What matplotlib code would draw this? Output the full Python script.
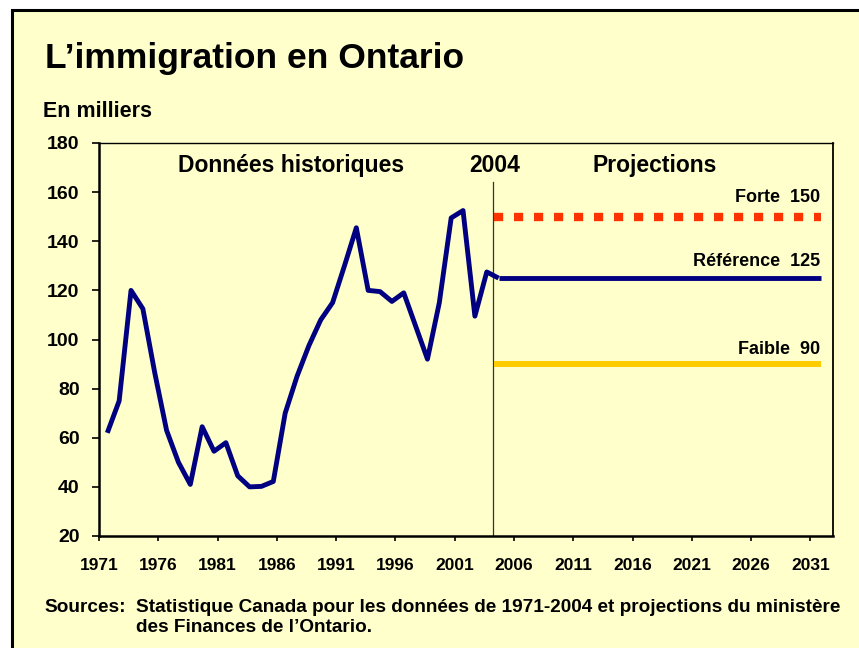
import matplotlib
matplotlib.use("Agg")
import matplotlib.pyplot as plt
from matplotlib import font_manager
from matplotlib.patches import Rectangle

# Data
hist_years = list(range(1971, 2004))
hist_values = [62, 75, 120, 112.5, 86.5, 63, 50, 41, 64.5, 54.5, 58, 44.5, 40, 40.2, 42.2,
               70, 85, 97.5, 108, 115, 130, 145.5, 120, 119.5, 115.5, 119, 105.5, 92, 115,
               149.5, 152.5, 109.5, 127.5]
proj_names = ["Forte", "Référence", "Faible"]
proj_values = [150, 125, 90]
proj_start, proj_end = 2004, 2031
tick_years = list(range(1971, 2032, 5))
y_ticks = list(range(20, 181, 20))

bg = "#FFFFCC"
navy = "#000080"
W, H = 859, 648

names = {f.name for f in font_manager.fontManager.ttflist}
narrow = "Liberation Sans Narrow" in names
title_font = "Liberation Sans Narrow" if narrow else "Liberation Sans"
plt.rcParams["font.family"] = ["Liberation Sans", "DejaVu Sans"]
plt.rcParams["font.weight"] = "bold"

fig = plt.figure(figsize=(W / 100, H / 100), dpi=100, facecolor="white")

# framed slide background
fig.patches.append(Rectangle((11.5 / W, -0.05), 1.1, 1 - 9.5 / H + 0.05,
                             transform=fig.transFigure, facecolor=bg,
                             edgecolor="black", linewidth=2.2, zorder=-5))

ax = fig.add_axes([99 / W, (H - 536) / H, (833 - 99) / W, (536 - 143) / H])
ax.set_zorder(2)
ax.set_facecolor(bg)

off = 0.7  # points sit inside each year's slot
ax.plot([y + off for y in hist_years] + [proj_start + off], hist_values + [proj_values[1]],
        color=navy, lw=3.5, solid_joinstyle="round", solid_capstyle="butt", zorder=4)
ax.plot([proj_start + off, proj_end + 0.85], [proj_values[1]] * 2, color=navy, lw=3.5,
        solid_capstyle="butt", zorder=4)
ax.plot([proj_start + 0.3, proj_end + 0.85], [proj_values[0]] * 2, color="#FF3300", lw=6,
        dashes=(1.1, 1.3), dash_capstyle="butt", zorder=3)
ax.plot([proj_start + 0.3, proj_end + 0.85], [proj_values[2]] * 2, color="#FFCC00", lw=4.3,
        solid_capstyle="butt", zorder=3)
ax.plot([proj_start + 0.25] * 2, [20, 164], color="#333333", lw=0.9, zorder=2)

label_y = [157.9, 131.7, 96.0]
for name, v, ly in zip(proj_names, proj_values, label_y):
    ax.text(proj_end + 0.85, ly, f"{name}  {v}", ha="right", va="center",
            fontsize=13, fontweight="bold")

ax.text(1987.2, 171, "Données historiques", ha="center", va="center", fontsize=16.5, fontweight="bold")
ax.text(2004.4, 171, "2004", ha="center", va="center", fontsize=16.5, fontweight="bold")
ax.text(2017.9, 171, "Projections", ha="center", va="center", fontsize=16.5, fontweight="bold")

ax.set_xlim(1971, 2032.9)
ax.set_ylim(20, 180)
ax.set_xticks(tick_years)
ax.set_xticklabels([str(t) for t in tick_years], fontsize=12.5, fontweight="bold")
ax.set_yticks(y_ticks)
ax.set_yticklabels([str(t) for t in y_ticks], fontsize=14, fontweight="bold")
ax.tick_params(axis="x", direction="out", length=3.5, width=1.2, pad=12)
ax.tick_params(axis="y", direction="out", length=5, width=1.2, pad=9)
for side, lw in [("left", 1.8), ("bottom", 1.8), ("right", 1.3), ("top", 1.0)]:
    ax.spines[side].set_linewidth(lw)
    ax.spines[side].set_color("black")

fig.text(45 / W, 1 - 67.7 / H, "L’immigration en Ontario", ha="left", va="baseline",
         fontsize=30.5 if narrow else 25.5, fontweight="bold", family=title_font)
fig.text(43 / W, 1 - 116.7 / H, "En milliers", ha="left", va="baseline",
         fontsize=15.5, fontweight="bold")
fig.text(44 / W, 1 - 611.7 / H, "Sources:", ha="left", va="baseline", fontsize=13.7, fontweight="bold")
fig.text(136 / W, 1 - 611.7 / H,
         "Statistique Canada pour les données de 1971-2004 et projections du ministère",
         ha="left", va="baseline", fontsize=13.7, fontweight="bold")
fig.text(136 / W, 1 - 631.7 / H, "des Finances de l’Ontario.", ha="left", va="baseline",
         fontsize=13.7, fontweight="bold")

fig.savefig("out.png", dpi=100, facecolor=fig.get_facecolor())
